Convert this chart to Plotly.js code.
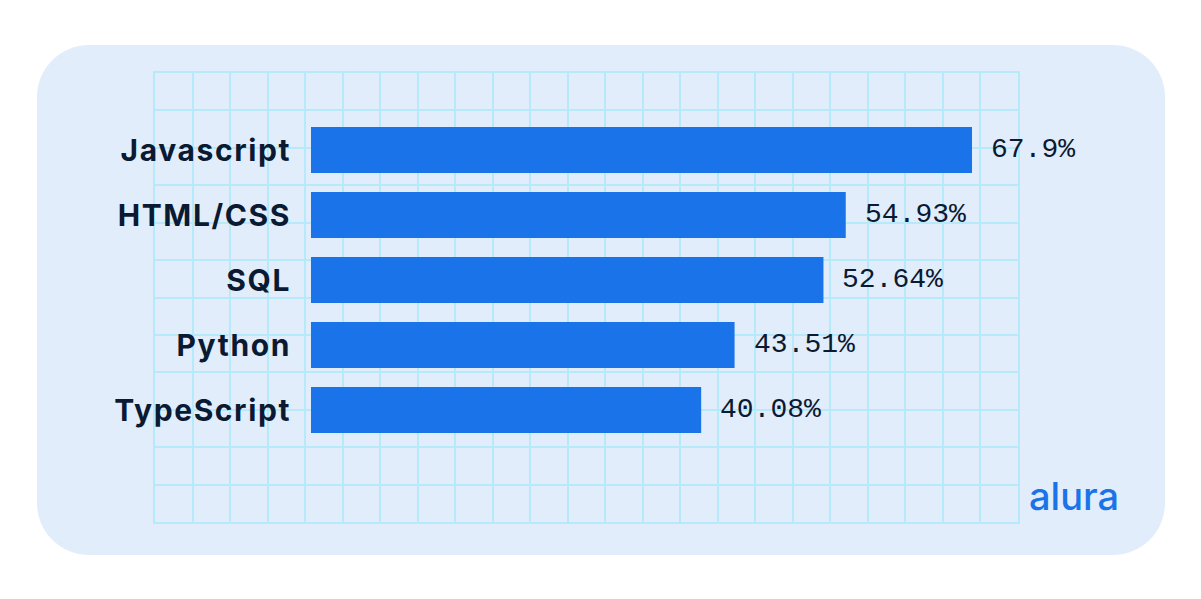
<!DOCTYPE html>
<html>
<head>
<meta charset="utf-8">
<script src="https://cdn.plot.ly/plotly-3.0.1.min.js"></script>
<style>
  html, body { margin: 0; padding: 0; background: #ffffff; overflow: hidden; }
  #panel { position: absolute; left: 37px; top: 45px; width: 1128px; height: 510px;
           border-radius: 52px; background: #e2edfb; }
  #chart { position: absolute; left: 0; top: 0; width: 1201px; height: 599px; }
  #chart .y2tick text { letter-spacing: 1.6px; }
</style>
</head>
<body>
<div id="panel"></div>
<div id="chart"></div>
<script>
// Data
const languages = ["Javascript", "HTML/CSS", "SQL", "Python", "TypeScript"];
const shares = [67.9, 54.93, 52.64, 43.51, 40.08];
const shareLabels = ["67.9%", "54.93%", "52.64%", "43.51%", "40.08%"];
const brandText = "alura";

// Decorative grid size (cells)
const gridCols = 23;
const gridRows = 12;

const W = 1201, H = 599;
const px = v => v / W;
const py = v => 1 - v / H;

const ink = "#0b1a33";
const blue = "#1a73e8";

const traces = [
  { // anchor trace for decorative grid axes
    type: "scatter", x: [0], y: [0], mode: "markers",
    marker: { opacity: 0 }, hoverinfo: "skip", showlegend: false,
    xaxis: "x", yaxis: "y"
  },
  {
    type: "bar", orientation: "h",
    x: shares, y: languages,
    marker: { color: blue, line: { width: 0 } },
    hoverinfo: "skip", showlegend: false,
    xaxis: "x2", yaxis: "y2"
  }
];

const annotations = shares.map((v, i) => ({
  x: v, y: languages[i], xref: "x2", yref: "y2",
  text: shareLabels[i], showarrow: false,
  xanchor: "left", yanchor: "middle", xshift: 17, yshift: 1,
  font: { family: "Liberation Mono, monospace", size: 28, color: ink }
}));
annotations.push({
  x: px(1121), y: py(496), xref: "paper", yref: "paper",
  text: brandText, showarrow: false, xanchor: "right", yanchor: "middle",
  font: { family: "Inter, sans-serif", size: 38, color: blue, weight: 500 }
});

const gridColor = "#b6eafa";

const layout = {
  width: W, height: H,
  margin: { l: 0, r: 0, t: 0, b: 0, pad: 0 },
  paper_bgcolor: "rgba(0,0,0,0)",
  plot_bgcolor: "rgba(0,0,0,0)",
  showlegend: false,
  xaxis: {
    domain: [px(155), px(1018)], range: [0, gridCols], dtick: 1, tick0: 0,
    showgrid: true, gridcolor: gridColor, gridwidth: 2,
    showline: true, mirror: true, linecolor: gridColor, linewidth: 2,
    zeroline: false, showticklabels: false, ticks: "", fixedrange: true
  },
  yaxis: {
    domain: [py(522), py(73)], range: [0, gridRows], dtick: 1, tick0: 0,
    showgrid: true, gridcolor: gridColor, gridwidth: 2,
    showline: true, mirror: true, linecolor: gridColor, linewidth: 2,
    zeroline: false, showticklabels: false, ticks: "", fixedrange: true
  },
  xaxis2: {
    domain: [px(311), px(311 + 661 * 80 / 67.9)], range: [0, 80],
    anchor: "y2", showgrid: false, zeroline: false, showline: false,
    showticklabels: false, ticks: "", fixedrange: true
  },
  yaxis2: {
    domain: [py(442.5), py(117.5)], range: [4.5, -0.5],
    anchor: "x2", type: "category", categoryorder: "array", categoryarray: languages,
    showgrid: false, zeroline: false, showline: false, ticks: "",
    ticklabelstandoff: 19,
    tickfont: { family: "Inter, sans-serif", size: 30, color: ink, weight: 700 },
    fixedrange: true
  },
  bargap: 0.292,
  annotations: annotations
};

Plotly.newPlot("chart", traces, layout, { displayModeBar: false, staticPlot: true });
</script>
</body>
</html>
